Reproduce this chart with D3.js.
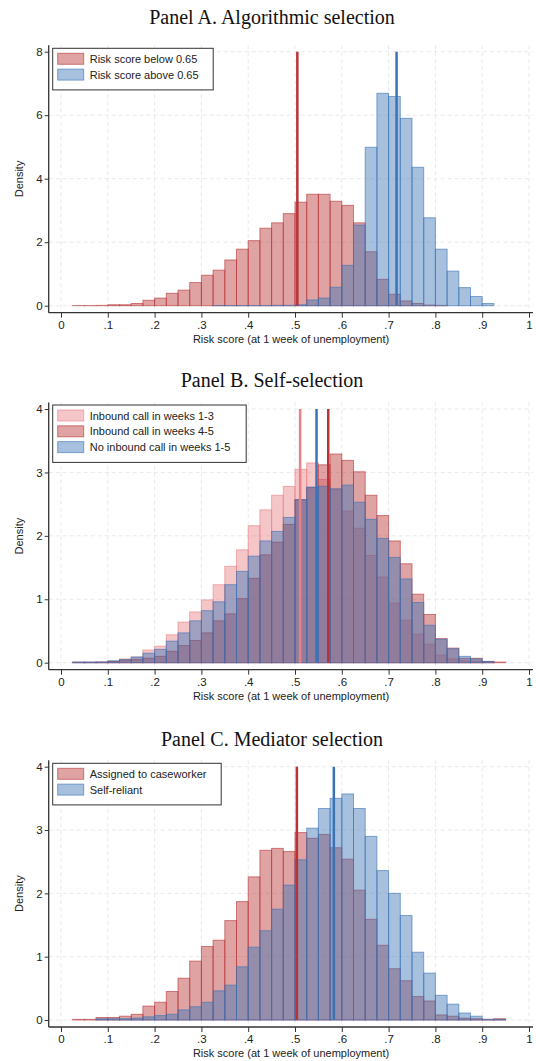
<!DOCTYPE html>
<html>
<head>
<meta charset="utf-8">
<script src="https://cdn.jsdelivr.net/npm/d3@7"></script>
<style>
  body { margin: 0; background: #fff; }
  text { font-family: "Liberation Sans", Arial, sans-serif; fill: #222; }
  .ptitle { font-family: "Liberation Serif", "Times New Roman", serif; font-size: 20px; fill: #111; }
</style>
</head>
<body>
<div id="chart"></div>
<script>
// bin starts (width 0.025)
const binStarts = [0.025, 0.05, 0.075, 0.1, 0.125, 0.15, 0.175, 0.2, 0.225, 0.25,
  0.275, 0.3, 0.325, 0.35, 0.375, 0.4, 0.425, 0.45, 0.475, 0.5,
  0.525, 0.55, 0.575, 0.6, 0.625, 0.65, 0.675, 0.7, 0.725, 0.75,
  0.775, 0.8, 0.825, 0.85, 0.875, 0.9, 0.925];
const binWidth = 0.025;
const xTicks = [0, 0.1, 0.2, 0.3, 0.4, 0.5, 0.6, 0.7, 0.8, 0.9, 1];

// Panel A
const aBelow = [0.005, 0.005, 0.01, 0.03, 0.03, 0.07, 0.17, 0.24, 0.39, 0.49,
  0.73, 0.96, 1.12, 1.44, 1.78, 2.05, 2.44, 2.61, 2.90, 3.26,
  3.51, 3.51, 3.29, 3.16, 2.61, 1.70, 0.83, 0.36, 0.15, 0.07,
  0.02, 0.01, 0, 0, 0, 0, 0];
const aAbove = [0, 0, 0, 0, 0, 0, 0, 0, 0, 0,
  0, 0, 0.005, 0.005, 0.005, 0.005, 0.005, 0.01, 0.01, 0.03,
  0.18, 0.24, 0.58, 1.27, 2.54, 4.99, 6.69, 6.59, 5.90, 4.36,
  2.77, 1.78, 1.09, 0.57, 0.29, 0.07, 0];
const aMeans = [0.505, 0.717];
const aYTicks = [0, 2, 4, 6, 8];

// Panel B
const bWeeks13 = [0.01, 0.01, 0.01, 0.02, 0.06, 0.09, 0.20, 0.26, 0.44, 0.64,
  0.80, 0.99, 1.23, 1.52, 1.78, 2.16, 2.41, 2.64, 2.78, 3.05,
  3.15, 2.89, 2.74, 2.39, 2.12, 1.69, 1.35, 0.94, 0.67, 0.45,
  0.29, 0.12, 0.06, 0.03, 0.02, 0.01, 0];
const bWeeks45 = [0.005, 0.005, 0.01, 0.02, 0.04, 0.05, 0.07, 0.10, 0.18, 0.27,
  0.35, 0.47, 0.66, 0.77, 1.01, 1.33, 1.70, 1.90, 2.18, 2.57,
  2.76, 3.12, 3.29, 3.19, 3.01, 2.64, 2.32, 1.92, 1.56, 1.08,
  0.76, 0.38, 0.23, 0.07, 0.07, 0.02, 0.01];
const bNoCall = [0.01, 0.01, 0.01, 0.03, 0.05, 0.09, 0.15, 0.21, 0.34, 0.47,
  0.66, 0.82, 0.96, 1.23, 1.44, 1.68, 1.92, 2.07, 2.29, 2.57,
  2.77, 2.78, 2.74, 2.80, 2.53, 2.26, 1.96, 1.66, 1.32, 0.95,
  0.59, 0.37, 0.22, 0.10, 0.06, 0.02, 0];
const bMeans = [0.511, 0.571, 0.546];
const bYTicks = [0, 1, 2, 3, 4];

// Panel C
const cCaseworker = [0.01, 0.01, 0.04, 0.04, 0.06, 0.09, 0.22, 0.28, 0.45, 0.66,
  0.93, 1.16, 1.26, 1.57, 1.87, 2.26, 2.68, 2.71, 2.66, 2.96,
  2.87, 2.93, 2.72, 2.54, 2.05, 1.59, 1.18, 0.81, 0.62, 0.37,
  0.30, 0.08, 0.06, 0.03, 0.02, 0.01, 0.02];
const cSelfReliant = [0, 0, 0.02, 0.02, 0.02, 0.03, 0.05, 0.07, 0.09, 0.16,
  0.21, 0.28, 0.46, 0.55, 0.84, 1.15, 1.41, 1.75, 2.13, 2.53,
  3.03, 3.34, 3.50, 3.57, 3.34, 2.90, 2.36, 2.00, 1.65, 1.07,
  0.74, 0.39, 0.25, 0.11, 0.06, 0.01, 0.01];
const cMeans = [0.504, 0.583];
const cYTicks = [0, 1, 2, 3, 4];

const RED = "#b83236", BLUE = "#3a73b5", PINK = "#e98085";

const width = 536, height = 1061;
const svg = d3.select("#chart").append("svg")
  .attr("width", width).attr("height", height);

const x = d3.scaleLinear().domain([0, 1]).range([61, 529]);
const axisLeftX = 48.7, axisRightX = 533;

function drawPanel(p) {
  const g = svg.append("g");
  const y = d3.scaleLinear().domain([0, p.yMax]).range([p.y0, p.yTop]);
  const bottom = p.y0 + 7;
  const top = p.yTop - 6.5;

  g.append("text").attr("class", "ptitle")
    .attr("x", 272).attr("y", p.titleY).attr("text-anchor", "middle")
    .text(p.title);

  // grid
  g.append("g").selectAll("line").data(xTicks).join("line")
    .attr("x1", d => x(d)).attr("x2", d => x(d))
    .attr("y1", top).attr("y2", bottom)
    .attr("stroke", "#e9e9e9").attr("stroke-dasharray", "4,3");
  g.append("g").selectAll("line").data(p.yTicks).join("line")
    .attr("x1", axisLeftX).attr("x2", axisRightX)
    .attr("y1", d => y(d)).attr("y2", d => y(d))
    .attr("stroke", "#e9e9e9").attr("stroke-dasharray", "4,3");

  // histograms
  p.series.forEach(s => {
    g.append("g").selectAll("rect")
      .data(binStarts.map((b, i) => ({b: b, v: s.values[i]})).filter(d => d.v > 0))
      .join("rect")
      .attr("x", d => x(d.b))
      .attr("width", x(binWidth) - x(0))
      .attr("y", d => y(d.v))
      .attr("height", d => y(0) - y(d.v))
      .attr("fill", s.color).attr("fill-opacity", 0.45)
      .attr("stroke", s.color).attr("stroke-opacity", 0.6).attr("stroke-width", 1);
  });

  // mean lines
  p.means.forEach((m, i) => {
    g.append("line")
      .attr("x1", x(m)).attr("x2", x(m))
      .attr("y1", y(0)).attr("y2", y(p.yMax))
      .attr("stroke", p.series[i].color).attr("stroke-width", 2.5);
  });

  // axes
  const yAxis = g.append("g").attr("transform", `translate(${axisLeftX},0)`)
    .call(d3.axisLeft(y).tickValues(p.yTicks).tickSize(4).tickFormat(d3.format("d")));
  yAxis.select(".domain").attr("d", `M0,${top}V${bottom}`).attr("stroke", "#333").attr("stroke-width", 1.3);
  yAxis.selectAll("text").attr("font-size", 11.5).attr("x", -6);
  yAxis.selectAll(".tick line").attr("stroke", "#333");

  const xAxis = g.append("g").attr("transform", `translate(0,${bottom})`)
    .call(d3.axisBottom(x).tickValues(xTicks).tickSize(5)
      .tickFormat(d => d === 0 ? "0" : d === 1 ? "1" : "." + Math.round(d * 10)));
  xAxis.select(".domain").attr("d", `M${axisLeftX},0H${axisRightX}`).attr("stroke", "#333").attr("stroke-width", 1.3);
  xAxis.selectAll("text").attr("font-size", 11.5).attr("dy", "0.71em");
  xAxis.selectAll(".tick line").attr("stroke", "#333");

  g.append("text").attr("x", 291).attr("y", bottom + 30)
    .attr("text-anchor", "middle").attr("font-size", 11)
    .text("Risk score (at 1 week of unemployment)");

  g.append("text")
    .attr("transform", `translate(23,${(top + bottom) / 2}) rotate(-90)`)
    .attr("text-anchor", "middle").attr("font-size", 11)
    .text("Density");

  // legend
  const lg = g.append("g").attr("transform", `translate(52.7,${p.legendY})`);
  lg.append("rect").attr("width", p.legendW).attr("height", 8 + 15.8 * p.series.length + 2)
    .attr("fill", "#fff").attr("stroke", "#333").attr("stroke-width", 1);
  p.series.forEach((s, i) => {
    const row = lg.append("g").attr("transform", `translate(5,${5 + i * 15.8})`);
    row.append("rect").attr("width", 26).attr("height", 11)
      .attr("fill", s.color).attr("fill-opacity", 0.45)
      .attr("stroke", s.color).attr("stroke-opacity", 0.6);
    row.append("text").attr("x", 32).attr("y", 9.5).attr("font-size", 11).text(s.label);
  });
}

drawPanel({
  title: "Panel A. Algorithmic selection", titleY: 24,
  y0: 305.7, yTop: 51.7, yMax: 8, yTicks: aYTicks,
  legendY: 48.3, legendW: 160.5,
  means: aMeans,
  series: [
    {label: "Risk score below 0.65", values: aBelow, color: RED},
    {label: "Risk score above 0.65", values: aAbove, color: BLUE}
  ]
});

drawPanel({
  title: "Panel B. Self-selection", titleY: 387,
  y0: 662.7, yTop: 409, yMax: 4, yTicks: bYTicks,
  legendY: 405, legendW: 193.5,
  means: bMeans,
  series: [
    {label: "Inbound call in weeks 1-3", values: bWeeks13, color: PINK},
    {label: "Inbound call in weeks 4-5", values: bWeeks45, color: RED},
    {label: "No inbound call in weeks 1-5", values: bNoCall, color: BLUE}
  ]
});

drawPanel({
  title: "Panel C. Mediator selection", titleY: 746,
  y0: 1020, yTop: 766.7, yMax: 4, yTicks: cYTicks,
  legendY: 763.3, legendW: 168.5,
  means: cMeans,
  series: [
    {label: "Assigned to caseworker", values: cCaseworker, color: RED},
    {label: "Self-reliant", values: cSelfReliant, color: BLUE}
  ]
});
</script>
</body>
</html>
